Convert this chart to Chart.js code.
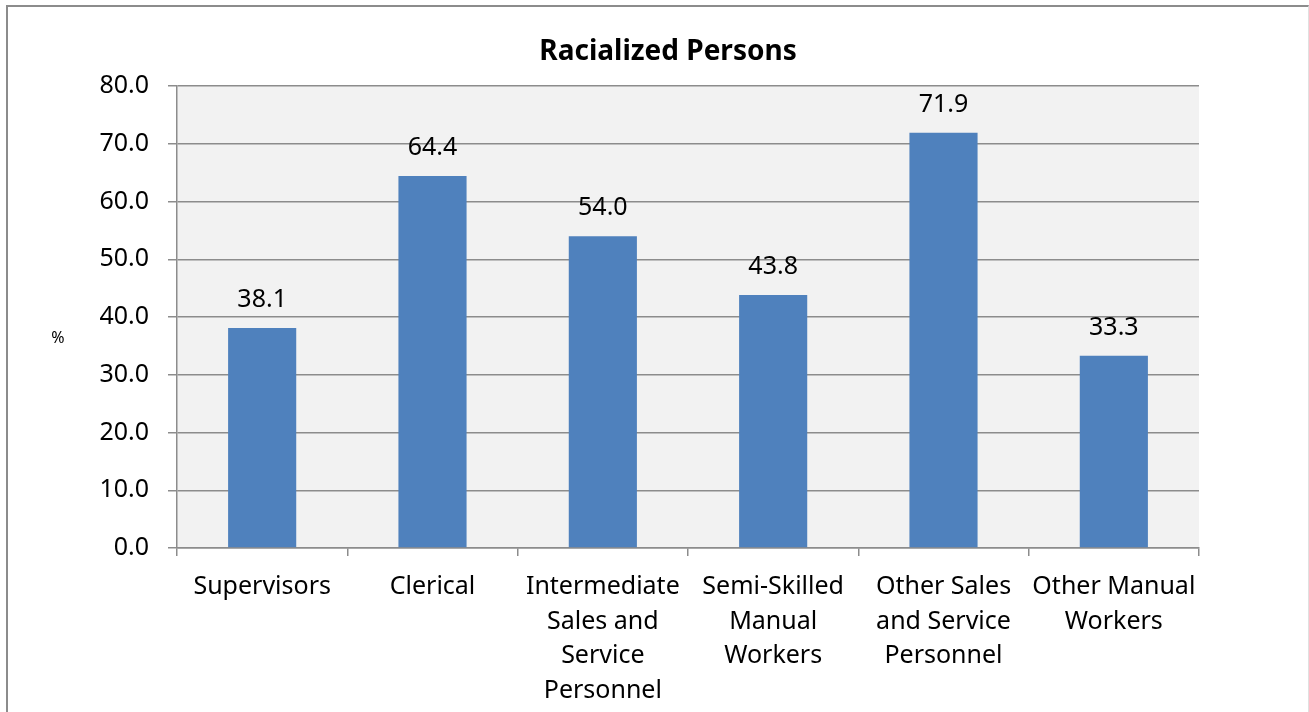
<!DOCTYPE html>
<html>
<head>
<meta charset="utf-8">
<script src="https://cdn.jsdelivr.net/npm/chart.js@4"></script>
<style>
  html, body { margin: 0; padding: 0; background: #fff; overflow: hidden; }
  .frame {
    position: absolute; left: 6px; top: 5px; width: 1300px; height: 760px;
    border-left: 2px solid #8c8c8c; border-top: 2px solid #8c8c8c; border-right: 1px solid #e0e0e0;
  }
  #chart { position: absolute; left: 0; top: 0; }
</style>
</head>
<body>
<div class="frame"></div>
<canvas id="chart" width="1309" height="712"></canvas>
<script>
// ---- data ----
const categories = [
  'Supervisors',
  'Clerical',
  ['Intermediate', 'Sales and', 'Service', 'Personnel'],
  ['Semi-Skilled', 'Manual', 'Workers'],
  ['Other Sales', 'and Service', 'Personnel'],
  ['Other Manual', 'Workers']
];
const values = [38.1, 64.4, 54.0, 43.8, 71.9, 33.3];
const yTicks = [0, 10, 20, 30, 40, 50, 60, 70, 80];
const titleText = 'Racialized Persons';
const yAxisLabel = '%';

const FONT = '"Noto Sans", sans-serif';

// plot background, title, value labels and the "%" axis label
const extras = {
  id: 'extras',
  beforeDraw(chart) {
    const { ctx, chartArea: a } = chart;
    ctx.save();
    ctx.fillStyle = '#f2f2f2';
    ctx.fillRect(a.left, a.top, a.right - a.left, a.bottom - a.top);
    ctx.restore();
  },
  afterDatasetsDraw(chart) {
    const { ctx } = chart;
    const meta = chart.getDatasetMeta(0);
    ctx.save();
    ctx.fillStyle = '#000';
    ctx.textAlign = 'center';
    ctx.textBaseline = 'middle';

    ctx.font = 'bold 28px ' + FONT;
    ctx.fillText(titleText, 668, 52);

    ctx.font = '25px ' + FONT;
    meta.data.forEach((bar, i) => {
      ctx.fillText(values[i].toFixed(1), bar.x, bar.y - 28);
    });

    ctx.font = '16px ' + FONT;
    ctx.fillText(yAxisLabel, 58, 338);
    ctx.restore();
  }
};

new Chart(document.getElementById('chart'), {
  type: 'bar',
  data: {
    labels: categories,
    datasets: [{
      data: values,
      backgroundColor: '#4f81bd',
      barPercentage: 0.4,
      categoryPercentage: 1.0
    }]
  },
  options: {
    responsive: false,
    animation: false,
    devicePixelRatio: 1,
    layout: { padding: { left: 0, right: 110, top: 86, bottom: 0 } },
    plugins: {
      legend: { display: false },
      tooltip: { enabled: false },
      title: { display: false }
    },
    scales: {
      x: {
        afterFit: (s) => { s.height = 164; },
        grid: { drawOnChartArea: false, drawTicks: true, tickLength: 8, color: '#8c8c8c', lineWidth: 1.5, offset: true },
        border: { display: true, color: '#8c8c8c', width: 1.5 },
        ticks: {
          color: '#000',
          padding: 14,
          maxRotation: 0,
          autoSkip: false,
          font: { family: FONT, size: 25, lineHeight: 1.38 }
        }
      },
      y: {
        min: 0,
        max: 80,
        afterFit: (s) => { s.width = 177; },
        afterBuildTicks: (s) => { s.ticks = yTicks.map(v => ({ value: v })); },
        grid: { color: '#8c8c8c', lineWidth: 1.5, tickLength: 9 },
        border: { display: true, color: '#8c8c8c', width: 1.5 },
        ticks: {
          color: '#000',
          padding: 19,
          font: { family: FONT, size: 25 },
          callback: (v) => Number(v).toFixed(1)
        }
      }
    }
  },
  plugins: [extras]
});
</script>
</body>
</html>
